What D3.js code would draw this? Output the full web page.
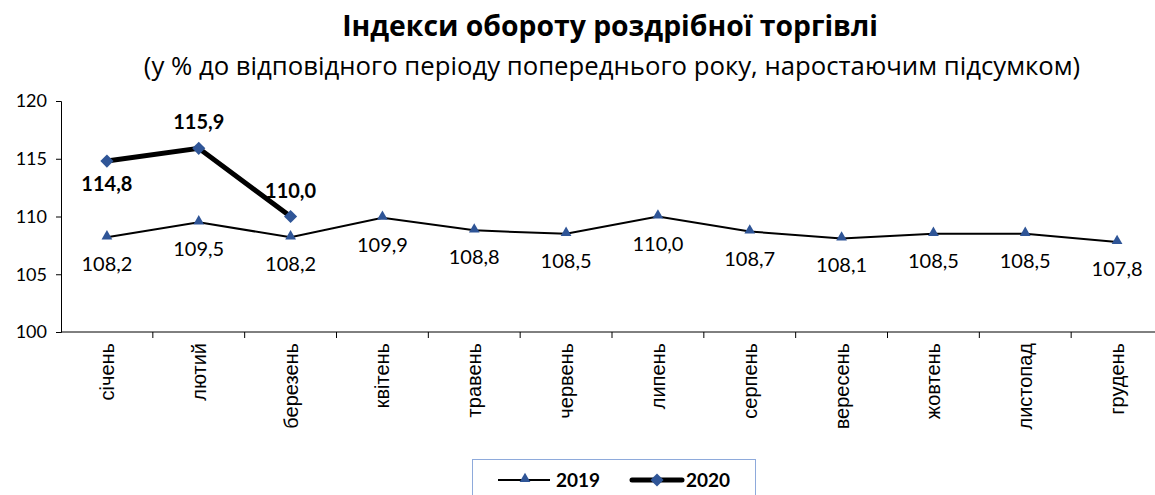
<!DOCTYPE html>
<html>
<head>
<meta charset="utf-8">
<script src="https://cdn.jsdelivr.net/npm/d3@7"></script>
<style>
  body { margin: 0; background: #fff; }
  svg { display: block; }
</style>
</head>
<body>
<svg id="chart"></svg>
<script>
const months = ['січень', 'лютий', 'березень', 'квітень', 'травень', 'червень',
  'липень', 'серпень', 'вересень', 'жовтень', 'листопад', 'грудень'];
const values2019 = [108.2, 109.5, 108.2, 109.9, 108.8, 108.5, 110.0, 108.7, 108.1, 108.5, 108.5, 107.8];
const values2020 = [114.8, 115.9, 110.0];
const yTicks = [100, 105, 110, 115, 120];

const [width, height] = [1155, 495];
const markerColor = '#2f5597';
const font = 'Lato, "Open Sans", sans-serif';

let svg = d3.select('#chart')
  .attr('width', width)
  .attr('height', height)

// підігнати розмір шрифту під потрібну ширину
function fitText(sel, target) {
  let size = parseFloat(sel.style('font-size'))
  let w = sel.node().getComputedTextLength()
  sel.style('font-size', (size * target / w) + 'px')
}

// заголовок
let title = svg.append('text')
  .attr('x', 610).attr('y', 36)
  .attr('text-anchor', 'middle')
  .style('font-family', '"Open Sans", sans-serif')
  .style('font-weight', 'bold')
  .style('font-size', '24px')
  .text('Індекси обороту роздрібної торгівлі')
fitText(title, 536)

let subtitle = svg.append('text')
  .attr('x', 612).attr('y', 75)
  .attr('text-anchor', 'middle')
  .style('font-family', '"Open Sans", sans-serif')
  .style('font-size', '23px')
  .text('(у % до відповідного періоду попереднього року, наростаючим підсумком)')
fitText(subtitle, 937)

let x = d3.scaleBand()
  .domain(months)
  .range([61, 1163])

let y = d3.scaleLinear()
  .domain([100, 120])
  .range([332, 101])

// осі
let yAxis = svg.append('g')
  .attr('transform', 'translate(61,0)')
  .call(d3.axisLeft(y).tickValues(yTicks).tickSize(5).tickPadding(9))
yAxis.select('.domain').attr('stroke', '#000')
yAxis.selectAll('text')
  .style('font-family', font)
  .style('font-size', '18px')
  .attr('fill', '#000')

let xAxis = svg.append('g')
  .attr('transform', 'translate(0,332)')
  .call(d3.axisBottom(x).tickSize(0).tickPadding(0))
xAxis.select('.domain').attr('stroke', '#000').attr('d', 'M61,0H1163')
xAxis.selectAll('.tick line').remove()
xAxis.selectAll('.tick text')
  .attr('transform', 'rotate(-90)')
  .attr('x', -11)
  .attr('y', 0)
  .attr('dy', '0.35em')
  .attr('text-anchor', 'end')
  .style('font-family', '"Liberation Sans", Arial, sans-serif')
  .style('font-size', '20px')
  .attr('fill', '#000')

// межі категорій
svg.append('g')
  .selectAll('line')
  .data(months.slice(1))
  .enter()
  .append('line')
  .attr('x1', d => x(d)).attr('x2', d => x(d))
  .attr('y1', 332).attr('y2', 338)
  .attr('stroke', '#000')

let cx = (d, i) => x(months[i]) + x.bandwidth() / 2

// 2019
let line = d3.line()
  .x((d, i) => cx(d, i))
  .y(d => y(d))

svg.append('path')
  .datum(values2019)
  .attr('d', line)
  .attr('fill', 'none')
  .attr('stroke', '#000')
  .attr('stroke-width', 2)

let tri = d3.symbol().type(d3.symbolTriangle).size(50)
svg.append('g')
  .selectAll('path')
  .data(values2019)
  .enter()
  .append('path')
  .attr('d', tri)
  .attr('transform', (d, i) => 'translate(' + cx(d, i) + ',' + (y(d) - 1) + ')')
  .attr('fill', markerColor)

svg.append('g')
  .selectAll('text')
  .data(values2019)
  .enter()
  .append('text')
  .attr('x', (d, i) => cx(d, i))
  .attr('y', d => y(d) + 34)
  .attr('text-anchor', 'middle')
  .style('font-family', font)
  .style('font-size', '20px')
  .text(d => d3.format('.1f')(d).replace('.', ','))

// 2020
svg.append('path')
  .datum(values2020)
  .attr('d', line)
  .attr('fill', 'none')
  .attr('stroke', '#000')
  .attr('stroke-width', 5)

let diamond = d3.symbol().type(d3.symbolDiamond2).size(110)
svg.append('g')
  .selectAll('path')
  .data(values2020)
  .enter()
  .append('path')
  .attr('d', diamond)
  .attr('transform', (d, i) => 'translate(' + cx(d, i) + ',' + y(d) + ')')
  .attr('fill', markerColor)

svg.append('g')
  .selectAll('text')
  .data(values2020)
  .enter()
  .append('text')
  .attr('x', (d, i) => cx(d, i))
  .attr('y', (d, i) => i === 0 ? y(d) + 30 : y(d) - 19)
  .attr('text-anchor', 'middle')
  .style('font-family', font)
  .style('font-weight', 'bold')
  .style('font-size', '20px')
  .text(d => d3.format('.1f')(d).replace('.', ','))

// легенда
let legend = svg.append('g')
legend.append('rect')
  .attr('x', 472.5).attr('y', 459.5)
  .attr('width', 283).attr('height', 40)
  .attr('fill', 'none')
  .attr('stroke', '#8eaadb')
  .attr('stroke-width', 1)

legend.append('line')
  .attr('x1', 498).attr('x2', 550).attr('y1', 480).attr('y2', 480)
  .attr('stroke', '#000').attr('stroke-width', 2)
legend.append('path')
  .attr('d', tri)
  .attr('transform', 'translate(525,479)')
  .attr('fill', markerColor)
legend.append('text')
  .attr('x', 556).attr('y', 487)
  .style('font-family', font)
  .style('font-weight', 'bold')
  .style('font-size', '19px')
  .text('2019')

legend.append('line')
  .attr('x1', 632).attr('x2', 682).attr('y1', 480).attr('y2', 480)
  .attr('stroke', '#000').attr('stroke-width', 5)
  .attr('stroke-linecap', 'round')
legend.append('path')
  .attr('d', diamond)
  .attr('transform', 'translate(657,480)')
  .attr('fill', markerColor)
legend.append('text')
  .attr('x', 686).attr('y', 487)
  .style('font-family', font)
  .style('font-weight', 'bold')
  .style('font-size', '19px')
  .text('2020')
</script>
</body>
</html>
